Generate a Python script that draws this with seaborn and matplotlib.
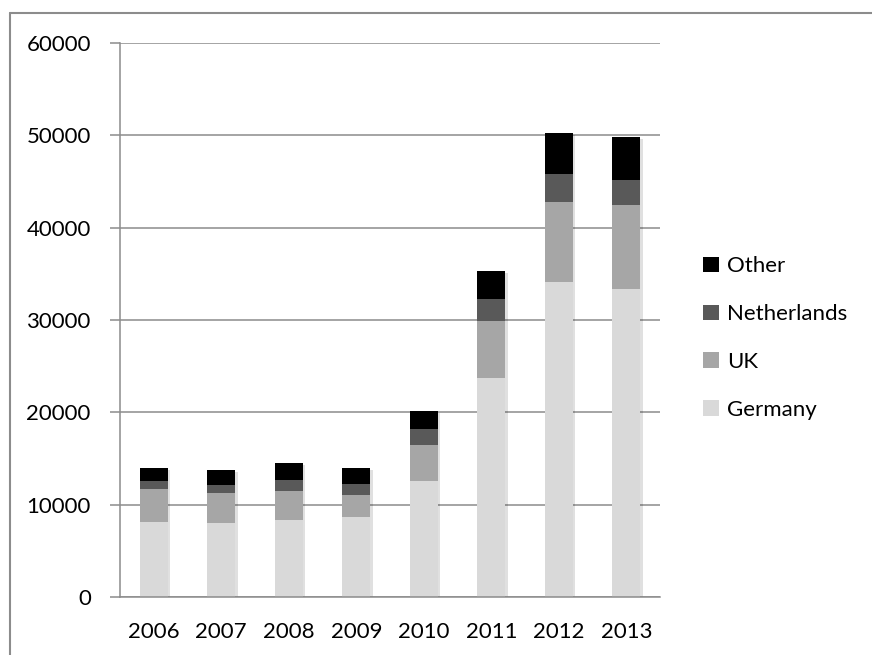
"""Stacked bar chart by year and country (Germany, UK, Netherlands, Other)."""

import matplotlib
matplotlib.use("Agg")
import matplotlib.pyplot as plt
import matplotlib.patheffects as pe
import numpy as np
import pandas as pd
import seaborn as sns
from matplotlib.lines import Line2D
from matplotlib.patches import Patch


YEARS = ["2006", "2007", "2008", "2009", "2010", "2011", "2012", "2013"]
GERMANY = [8150, 8010, 8300, 8690, 12510, 23770, 34090, 33400]
UK = [3570, 3280, 3140, 2310, 3970, 6100, 8690, 9060]
NETHERLANDS = [830, 860, 1220, 1190, 1700, 2380, 3060, 2670]
OTHER = [1380, 1630, 1870, 1800, 1980, 3030, 4380, 4690]

SERIES = ["Germany", "UK", "Netherlands", "Other"]
COLORS = {"Germany": "#d9d9d9", "UK": "#a6a6a6", "Netherlands": "#595959", "Other": "#000000"}
GRID_COLOR = "#8c8c8c"
FONT = ["Lato", "DejaVu Sans"]


def main() -> None:
    sns.set_theme(style="white")
    plt.rcParams["font.family"] = FONT
    plt.rcParams["font.size"] = 16
    plt.rcParams["text.color"] = "black"
    plt.rcParams["xtick.labelcolor"] = "black"
    plt.rcParams["ytick.labelcolor"] = "black"

    df = pd.DataFrame(
        {"year": YEARS, "Germany": GERMANY, "UK": UK, "Netherlands": NETHERLANDS, "Other": OTHER}
    )
    # 누적 합계: 가장 큰 누적값부터 그려서 아래 층이 위에 덮이도록 함
    cumulative = df[SERIES].cumsum(axis=1)

    fig = plt.figure(figsize=(8.72, 6.55), dpi=100)
    ax = fig.add_axes([120 / 872, 1 - 597 / 655, 540 / 872, 554 / 655])

    for name in reversed(SERIES):
        sns.barplot(
            x=df["year"], y=cumulative[name], color=COLORS[name],
            width=0.42, saturation=1, edgecolor="none", linewidth=0, ax=ax, zorder=3,
        )

    # 막대 뒤의 옅은 그림자 (가장 바깥 누적 막대에만)
    outer_bars = ax.patches[: len(YEARS)]
    for bar in outer_bars:
        bar.set_path_effects([
            pe.SimplePatchShadow(offset=(1.5, -1.5), shadow_rgbFace="#000000", alpha=0.12),
            pe.Normal(),
        ])

    ax.set_ylim(0, 60000)
    ax.set_xlim(-0.5, len(YEARS) - 0.5)
    ax.set_yticks(np.arange(0, 60001, 10000))
    ax.set_xlabel("")
    ax.set_ylabel("")

    ax.yaxis.grid(True, color=GRID_COLOR, linewidth=1.1, zorder=0)
    ax.set_axisbelow(True)
    for side in ["top", "right"]:
        ax.spines[side].set_visible(False)
    for side in ["left", "bottom"]:
        ax.spines[side].set_color(GRID_COLOR)
        ax.spines[side].set_linewidth(1.1)
        ax.spines[side].set_zorder(4)

    # x축 눈금은 범주 사이 경계에 표시
    ax.set_xticks(np.arange(-0.5, len(YEARS), 1.0), minor=True)
    ax.tick_params(axis="x", which="minor", length=6, width=1.1, color=GRID_COLOR, direction="out")
    ax.tick_params(axis="x", which="major", length=0, pad=18, labelsize=16)
    ax.tick_params(axis="y", length=7, width=1.1, color=GRID_COLOR, direction="out", pad=14, labelsize=16)
    ax.tick_params(axis="y", left=True)

    handles = [Patch(facecolor=COLORS[name], edgecolor="none") for name in reversed(SERIES)]
    fig.legend(
        handles, list(reversed(SERIES)), loc="center left",
        bbox_to_anchor=(683 / 872, 1 - 338 / 655), frameon=False,
        handlelength=0.7, handleheight=0.7, handletextpad=0.4,
        labelspacing=1.25, fontsize=16,
    )

    # 차트 영역 테두리 (왼쪽과 위쪽만 보임)
    border = dict(color=GRID_COLOR, linewidth=1.5, transform=fig.transFigure)
    fig.add_artist(Line2D([10 / 872, 10 / 872], [0, 1 - 13 / 655], **border))
    fig.add_artist(Line2D([10 / 872, 1], [1 - 13 / 655, 1 - 13 / 655], **border))

    fig.savefig("out.png", dpi=100)
    plt.close(fig)


if __name__ == "__main__":
    main()
